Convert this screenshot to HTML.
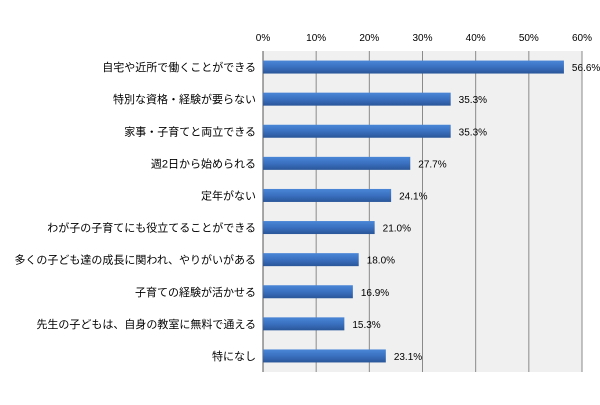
<!DOCTYPE html>
<html><head><meta charset="utf-8">
<style>
html,body{margin:0;padding:0;background:#fff;}
text{font-family:"Liberation Sans","Noto Sans CJK JP",sans-serif;}
</style></head>
<body>
<svg id="chart" width="600" height="400" viewBox="0 0 600 400" xmlns="http://www.w3.org/2000/svg">
<defs>
<linearGradient id="bg" x1="0" y1="0" x2="0" y2="1">
<stop offset="0" stop-color="#4a86d6"/><stop offset="0.5" stop-color="#3a70c0"/><stop offset="1" stop-color="#2a5699"/>
</linearGradient>
</defs>
<rect x="263" y="51" width="319" height="321" fill="#f0f0f0"/>
<g id="grid"></g><g id="bars"></g><g id="labels"></g>
</svg>
<script>
const categories=["自宅や近所で働くことができる","特別な資格・経験が要らない","家事・子育てと両立できる","週2日から始められる","定年がない","わが子の子育てにも役立てることができる","多くの子ども達の成長に関われ、やりがいがある","子育ての経験が活かせる","先生の子どもは、自身の教室に無料で通える","特になし"];
const values=[56.6,35.3,35.3,27.7,24.1,21.0,18.0,16.9,15.3,23.1];
const ticks=[0,10,20,30,40,50,60];
const NS="http://www.w3.org/2000/svg";
const x0=263,x1=582,y0=51,y1=372,xmax=60;
const xs=v=>x0+(v/xmax)*(x1-x0);
const band=(y1-y0)/categories.length;
const yc=i=>y0+band*(i+0.5);
function mk(tag,attrs,parent){const e=document.createElementNS(NS,tag);for(const k in attrs)e.setAttribute(k,attrs[k]);document.getElementById(parent).appendChild(e);return e;}
ticks.forEach((t,i)=>{
 if(t>0){const l=mk('line',{x1:xs(t),x2:xs(t),y1:y0,y2:y1,stroke:'#8a8a8a','stroke-width':1},'grid');
 
 }
 const tx=mk('text',{x:xs(t),y:41,'text-anchor':'middle','font-size':10,fill:'#000'},'labels');
 tx.textContent=t+'%';
 
 
});
const ax=mk('line',{x1:x0,x2:x0,y1:y0,y2:y1,stroke:'#555','stroke-width':1},'grid');


categories.forEach((c,i)=>{
 const y=yc(i);
 const r=mk('rect',{x:x0,y:y-6.5,width:xs(values[i])-x0,height:13,fill:'url(#bg)'},'bars');
 
 
 const lb=mk('text',{x:256,y:y+4,'text-anchor':'end','font-size':11,fill:'#000'},'labels');
 lb.textContent=c;
 
 
 const vl=mk('text',{x:xs(values[i])+8,y:y+4,'font-size':10,fill:'#000'},'labels');
 vl.textContent=values[i].toFixed(1)+'%';
 
 
});
</script>
</body></html>
